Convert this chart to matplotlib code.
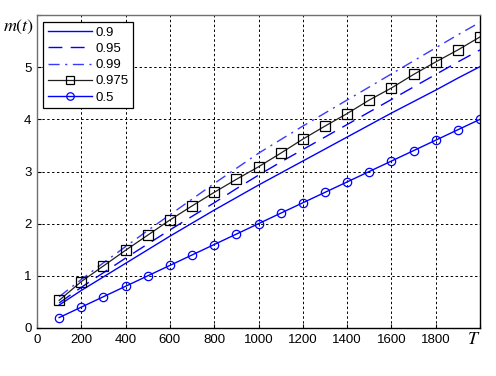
import matplotlib
matplotlib.use("Agg")
import matplotlib.pyplot as plt

T = [100, 200, 300, 400, 500, 600, 700, 800, 900, 1000,
     1100, 1200, 1300, 1400, 1500, 1600, 1700, 1800, 1900, 2000]
m_090 = [0.44, 0.72, 0.98, 1.24, 1.50, 1.76, 2.01, 2.26, 2.50, 2.74,
         2.97, 3.20, 3.43, 3.66, 3.89, 4.12, 4.34, 4.56, 4.79, 5.01]
m_095 = [0.48, 0.78, 1.06, 1.34, 1.61, 1.88, 2.14, 2.40, 2.67, 2.93,
         3.18, 3.42, 3.66, 3.90, 4.14, 4.38, 4.62, 4.86, 5.10, 5.33]
m_099 = [0.60, 0.93, 1.25, 1.56, 1.87, 2.17, 2.47, 2.77, 3.06, 3.35,
         3.61, 3.87, 4.12, 4.37, 4.62, 4.87, 5.12, 5.37, 5.62, 5.86]
m_0975 = [0.53, 0.89, 1.19, 1.49, 1.78, 2.07, 2.34, 2.60, 2.85, 3.09,
          3.35, 3.62, 3.87, 4.11, 4.37, 4.60, 4.86, 5.10, 5.33, 5.58]
m_050 = [0.20, 0.40, 0.60, 0.80, 1.00, 1.20, 1.40, 1.60, 1.80, 2.00,
         2.20, 2.40, 2.60, 2.80, 3.00, 3.20, 3.40, 3.60, 3.80, 4.00]
labels = ["0.9", "0.95", "0.99", "0.975", "0.5"]
xticks = [0, 200, 400, 600, 800, 1000, 1200, 1400, 1600, 1800, 2000]
xticklabels = ["0", "200", "400", "600", "800", "1000", "1200", "1400", "1600", "1800", ""]
yticks = [0, 1, 2, 3, 4, 5]

plt.rcParams['font.family'] = ['Liberation Sans', 'DejaVu Sans']
plt.rcParams['mathtext.fontset'] = 'stix'

fig = plt.figure(figsize=(4.96, 3.76), dpi=100)
ax = fig.add_axes([37/496, (376-328)/376, (480-37)/496, (328-15)/376])

blue = '#0000ff'
ax.plot(T, m_090, color=blue, lw=1.0, label=labels[0])
ax.plot(T, m_095, color=blue, lw=1.0, ls=(0, (10, 6)), label=labels[1])
ax.plot(T, m_099, color='#3a3aff', lw=1.0, ls=(0, (8, 4, 1.5, 4)), label=labels[2])
ax.plot(T, m_0975, color='#202020', lw=0.9, marker='s', markersize=6.5,
        markerfacecolor='none', markeredgecolor='black', markeredgewidth=0.9,
        label=labels[3])
ax.plot(T, m_050, color=blue, lw=1.0, marker='o', markersize=6,
        markerfacecolor='none', markeredgecolor=blue, markeredgewidth=0.9,
        label=labels[4])

ax.set_xlim(0, 2000)
ax.set_ylim(0, 6)
ax.set_xticks(xticks)
ax.set_xticklabels(xticklabels)
ax.set_yticks(yticks + [6])
ax.set_yticklabels([str(v) for v in yticks] + [""])
ax.tick_params(direction='in', length=3, labelsize=9.5, colors='black', pad=4)
ax.grid(True, color='black', ls=(0, (2.5, 2.5)), lw=0.7)
for s in ['top', 'left']:
    ax.spines[s].set_color('#707070')
for s in ['bottom', 'right']:
    ax.spines[s].set_color('black')
for s in ax.spines.values():
    s.set_linewidth(1.0)

fig.text(3/496, 1 - 27/376, "$m(t)$", fontsize=13, va='center', ha='left')
fig.text(474/496, 1 - 340/376, "$T$", fontsize=13, va='center', ha='center')

leg = ax.legend(loc='upper left', bbox_to_anchor=(6/443, 1 - 7/313),
                fontsize=9.5, frameon=True, fancybox=False,
                edgecolor='black', handlelength=3.4, borderpad=0.35,
                labelspacing=0.3, handletextpad=0.2, borderaxespad=0,
                markerscale=0.9)
leg.get_frame().set_linewidth(0.9)
leg.get_frame().set_alpha(1)

fig.savefig("out.png", dpi=100)
